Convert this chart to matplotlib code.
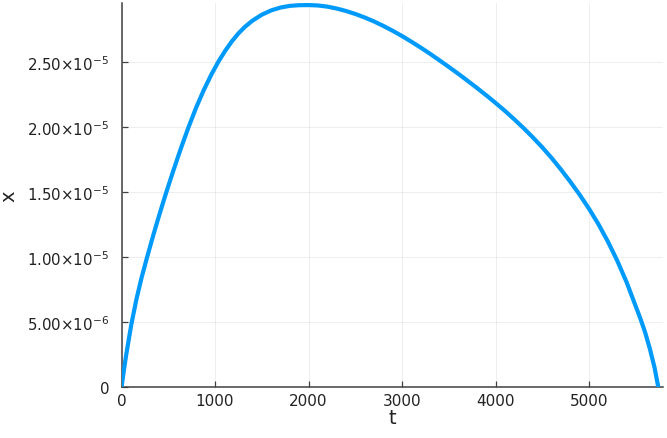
import matplotlib
matplotlib.use("Agg")
import matplotlib.pyplot as plt
import numpy as np

t_vals = [0, 25, 50, 105, 160, 215, 275, 340, 410, 480, 550, 630, 715, 800, 880, 960,
          1040, 1110, 1180, 1250, 1320, 1400, 1500, 1600, 1700, 1800, 1900, 2000,
          2100, 2200, 2300, 2400, 2500, 2600, 2700, 2800, 2900, 3000, 3100, 3200, 3300,
          3400, 3500, 3600, 3700, 3800, 3900, 4000, 4100, 4200, 4300, 4400, 4500, 4600,
          4700, 4800, 4900, 5000, 5100, 5200, 5300, 5400, 5500, 5550, 5600, 5650, 5700, 5740]
x_vals_e6 = [0, 1.3, 2.5, 4.85, 6.8, 8.45, 10.05, 11.71, 13.41, 15.03, 16.58, 18.28, 19.98,
             21.55, 22.87, 24.05, 25.1, 25.9, 26.61, 27.22, 27.73, 28.2, 28.66, 28.99, 29.21,
             29.34, 29.39, 29.4,
             29.37, 29.28, 29.135, 28.945, 28.715, 28.445, 28.14, 27.795, 27.42, 27.015,
             26.58, 26.125, 25.65, 25.15, 24.64, 24.12, 23.58, 23.03, 22.46, 21.87, 21.26,
             20.61, 19.93, 19.21, 18.45, 17.63, 16.74, 15.8, 14.8, 13.72, 12.54, 11.22, 9.75,
             8.1, 6.2, 5.25, 4.2, 2.95, 1.5, 0]

x_ticks = [0, 1000, 2000, 3000, 4000, 5000]
x_ticklabels = ["0", "1000", "2000", "3000", "4000", "5000"]
y_ticks = [0, 5e-6, 1e-5, 1.5e-5, 2e-5, 2.5e-5]
y_ticklabels = ["0", r"$5.00{\times}10^{-6}$", r"$1.00{\times}10^{-5}$", r"$1.50{\times}10^{-5}$",
                r"$2.00{\times}10^{-5}$", r"$2.50{\times}10^{-5}$"]

plt.rcParams['mathtext.default'] = 'regular'
plt.rcParams['font.family'] = ['DejaVu Sans']

fig = plt.figure(figsize=(6.67, 4.39), dpi=100)
ax = fig.add_axes([0.1822, 0.1155, 0.994 - 0.1822, 0.9909 - 0.1155])

t = np.array(t_vals)
x = np.array(x_vals_e6) * 1e-6
ax.plot(t, x, color="#009AFA", lw=3.0, solid_capstyle="butt", solid_joinstyle="round", zorder=3)

ax.set_xlim(0, 5790)
ax.set_ylim(0, 2.956e-5)
ax.set_xticks(x_ticks)
ax.set_xticklabels(x_ticklabels)
ax.set_yticks(y_ticks)
ax.set_yticklabels(y_ticklabels)

ax.grid(True, color="#000000", alpha=0.08, lw=0.6)
for s in ["top", "right"]:
    ax.spines[s].set_visible(False)
for s in ["left", "bottom"]:
    ax.spines[s].set_color("#404040")
    ax.spines[s].set_linewidth(1.1)
ax.tick_params(direction="in", length=4, width=0.9, color="#404040",
               labelsize=11, labelcolor="#222222")
ax.tick_params(axis="x", pad=4)
ax.tick_params(axis="y", pad=9, labelsize=10.8)

ax.set_xlabel("t", fontsize=14, color="#222222", labelpad=0)
ax.set_ylabel("x", fontsize=14, color="#222222")
ax.yaxis.set_label_coords(-0.19, 0.5)

fig.savefig("out.png", dpi=100)
